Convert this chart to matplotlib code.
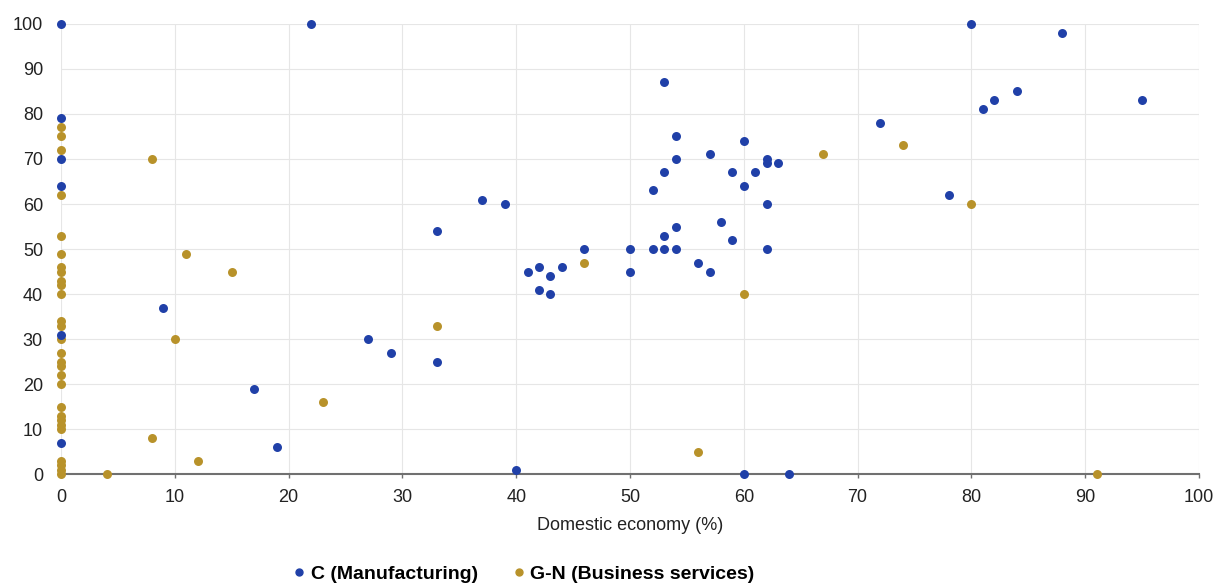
import matplotlib.pyplot as plt
from matplotlib.lines import Line2D

# C (Manufacturing)
manu_x = [0, 0, 0, 0, 0, 0,
          22, 80, 88, 95, 84, 82, 81, 72, 78, 53, 54, 60, 57, 54, 62, 62, 63,
          59, 61, 53, 60, 52, 62, 37, 39, 58, 54, 33, 53, 59, 46, 50, 52, 53,
          54, 62, 56, 44, 42, 41, 50, 57, 43, 42, 43, 9, 27, 29, 33, 17, 19,
          40, 60, 64]
manu_y = [100, 79, 70, 64, 31, 7,
          100, 100, 98, 83, 85, 83, 81, 78, 62, 87, 75, 74, 71, 70, 70, 69, 69,
          67, 67, 67, 64, 63, 60, 61, 60, 56, 55, 54, 53, 52, 50, 50, 50, 50,
          50, 50, 47, 46, 46, 45, 45, 45, 44, 41, 40, 37, 30, 27, 25, 19, 6,
          1, 0, 0]

# G-N (Business services)
serv_x = [0] * 28 + [8, 11, 15, 10, 8, 12, 4, 23, 33, 46, 60, 56, 67, 74, 80, 91]
serv_y = [77, 75, 72, 62, 53, 49, 46, 45, 43, 42, 40, 34, 33, 30, 27, 25, 24,
          22, 20, 15, 13, 12, 11, 10, 3, 2, 1, 0,
          70, 49, 45, 30, 8, 3, 0, 16, 33, 47, 40, 5, 71, 73, 60, 0]

blue = '#2040a8'
gold = '#b8922a'

plt.rcParams['font.family'] = 'Liberation Sans'

fig = plt.figure(figsize=(12.18, 5.85), dpi=100)
ax = fig.add_axes([0.0501, 0.1897, 0.9343, 0.7693])

ax.scatter(serv_x, serv_y, s=42, color=gold, clip_on=False, zorder=3, linewidths=0)
ax.scatter(manu_x, manu_y, s=42, color=blue, clip_on=False, zorder=3, linewidths=0)

ax.set_xlim(0, 100)
ax.set_ylim(0, 100)
ax.set_xticks(range(0, 101, 10))
ax.set_yticks(range(0, 101, 10))
ax.grid(True, color='#e6e6e6', linewidth=0.8)
ax.set_axisbelow(True)

for side in ['top', 'right', 'left']:
    ax.spines[side].set_visible(False)
ax.spines['bottom'].set_color('#707070')
ax.spines['bottom'].set_linewidth(1.5)

ax.tick_params(axis='x', colors='#707070', length=3, width=1, labelsize=13,
               labelcolor='#222222', pad=8)
ax.tick_params(axis='y', length=0, labelsize=13, labelcolor='#222222', pad=13)

ax.set_xlabel('Domestic economy (%)', fontsize=13, color='#222222', labelpad=8)

handles = [
    Line2D([], [], marker='o', linestyle='', color=blue, markersize=5,
           label='C (Manufacturing)'),
    Line2D([], [], marker='o', linestyle='', color=gold, markersize=5,
           label='G-N (Business services)'),
]
fig.legend(handles=handles, loc='center', bbox_to_anchor=(522 / 1218, 1 - 574 / 585),
           ncol=2, frameon=False, handletextpad=0.1, columnspacing=1.6,
           prop={'weight': 'bold', 'size': 14}, handlelength=1.0)

fig.savefig('out.png', dpi=100)
